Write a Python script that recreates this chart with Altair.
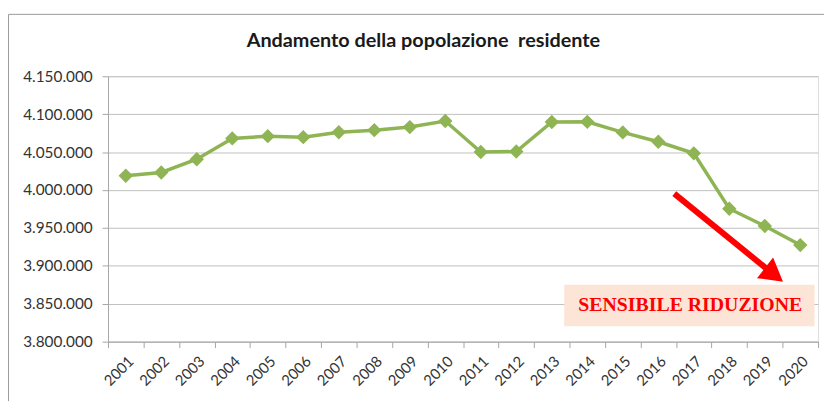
import altair as alt
import pandas as pd

years = [str(y) for y in range(2001, 2021)]
values = [4018800, 4023100, 4040600, 4068000, 4071000, 4069700, 4076200, 4078900,
          4083000, 4091000, 4050100, 4050800, 4089700, 4089900, 4076000, 4063600,
          4048400, 3975300, 3952600, 3927400]
y_ticks = [3800000, 3850000, 3900000, 3950000, 4000000, 4050000, 4100000, 4150000]

# annotation (data coordinates: year-position, value)
arrow_x = [2016.45]
arrow_y = [3995300]
arrow_x2 = [2019.26]
arrow_y2 = [3888250]
box_x = [2013.35]
box_x2 = [2020.4]
box_y = [3875200]
box_y2 = [3820400]
label_x = [2016.9]
label_y = [3847800]
label_text = ["SENSIBILE RIDUZIONE"]

df = pd.DataFrame({"year": years, "value": values})
arrow_df = pd.DataFrame({"x": arrow_x, "y": arrow_y, "x2": arrow_x2, "y2": arrow_y2})
box_df = pd.DataFrame({"x": box_x, "x2": box_x2, "y": box_y, "y2": box_y2})
lab_df = pd.DataFrame({"x": label_x, "y": label_y, "t": label_text})
dummy = pd.DataFrame({"d": [0]})

W, H = 717, 268
GREEN = "#8FB454"
ydom = [3800000, 4150000]
xq = alt.Scale(domain=[2000.5, 2020.5], nice=False, zero=False)
yq = alt.Scale(domain=ydom, nice=False, zero=False)

x_axis = alt.Axis(
    title=None, labelAngle=-45, tickBand="extent", grid=False,
    domainColor="#a6a6a6", tickColor="#a6a6a6", tickSize=6,
    labelFont="Lato", labelFontSize=15, labelColor="#333333", labelPadding=6,
)
y_axis = alt.Axis(
    title=None, values=y_ticks, grid=True, gridColor="#bfbfbf", gridWidth=1,
    domainColor="#a6a6a6", tickColor="#a6a6a6", tickSize=6, labelOverlap=False,
    labelFont="Lato", labelFontSize=15.5, labelColor="#333333", labelPadding=10,
    labelExpr="replace(format(datum.value, ','), /,/g, '.')",
)

base = alt.Chart(df).encode(
    x=alt.X("year:O", scale=alt.Scale(type="band", paddingInner=0, paddingOuter=0), axis=x_axis),
    y=alt.Y("value:Q", scale=yq, axis=y_axis),
)
line = base.mark_line(color=GREEN, strokeWidth=3.5)
pts = base.mark_point(shape="diamond", filled=True, size=210, color=GREEN, opacity=1)
series = alt.layer(line, pts)

box = alt.Chart(box_df).mark_rect(color="#FCE4D6").encode(
    x=alt.X("x:Q", scale=xq, axis=None), x2="x2",
    y=alt.Y("y:Q", scale=yq, axis=None), y2="y2",
)
label = alt.Chart(lab_df).mark_text(
    font="Liberation Serif", fontWeight="bold", fontSize=20, color="#FF0000",
    align="center", baseline="middle",
).encode(
    x=alt.X("x:Q", scale=xq, axis=None),
    y=alt.Y("y:Q", scale=yq, axis=None),
    text="t:N",
)
shaft = alt.Chart(arrow_df).mark_rule(color="#FF0000", strokeWidth=6).encode(
    x=alt.X("x:Q", scale=xq, axis=None), x2="x2",
    y=alt.Y("y:Q", scale=yq, axis=None), y2="y2",
)
head = alt.Chart(arrow_df).mark_point(
    shape="triangle-right", filled=True, size=700, color="#FF0000", opacity=1, angle=37.8,
).encode(
    x=alt.X("x2:Q", scale=xq, axis=None),
    y=alt.Y("y2:Q", scale=yq, axis=None),
)
annot = alt.layer(box, shaft, head, label)

border_top = alt.Chart(dummy).mark_rule(color="#9a9a9a", strokeWidth=1).encode(
    x=alt.value(-100.5), x2=alt.value(W + 6), y=alt.value(-62.5)
)
border_left = alt.Chart(dummy).mark_rule(color="#9a9a9a", strokeWidth=1).encode(
    x=alt.value(-100.5), y=alt.value(-62.5), y2=alt.value(H + 60)
)

chart = alt.layer(
    series, annot, border_top, border_left
).resolve_scale(x="independent").resolve_axis(y="independent").properties(
    width=W, height=H,
    padding={"left": 101, "top": 67, "right": 6, "bottom": 60},
    autosize=alt.AutoSizeParams(type="none"),
    title=alt.TitleParams(
        "Andamento della popolazione \u00a0residente", font="Lato", fontSize=20,
        fontWeight="bold", color="#1a1a1a", dx=-40, offset=-37, anchor="middle",
        frame="group",
    ),
).configure_view(stroke=None).configure(background="white")

chart.save("out.html", embed_options={"renderer": "svg", "actions": False})
